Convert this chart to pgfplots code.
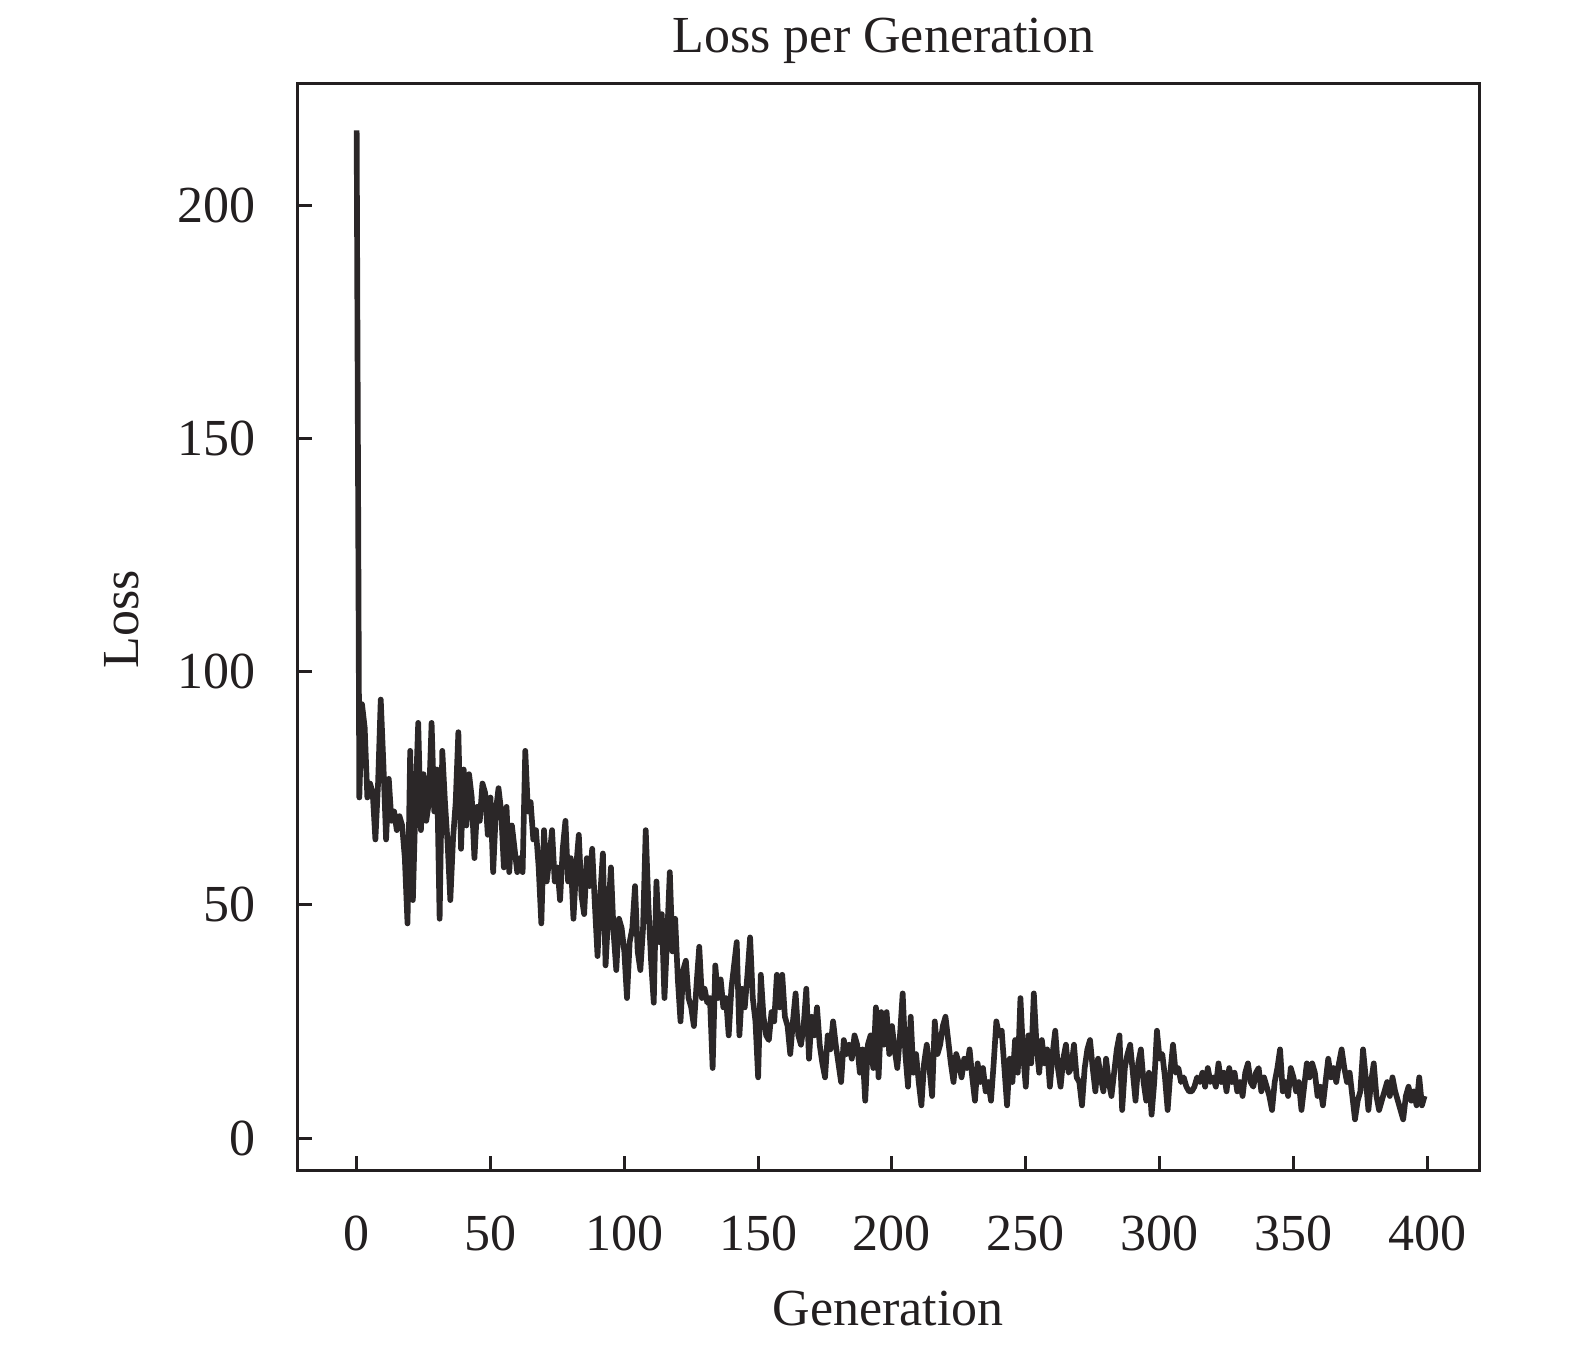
\documentclass[border=0pt]{standalone}
\usepackage{fontspec}
\setmainfont{Liberation Serif}
\usepackage{pgfplots}
\usepackage{pgfplotstable}
\pgfplotsset{compat=1.18}
\definecolor{ink}{HTML}{231F20}
\definecolor{curve}{HTML}{2B2728}
\pgfplotstableread{
x y
0 216
1 73
2 93
3 88
4 73
5 76
6 74
7 64
8 76
9 94
10 80
11 64
12 77
13 68
14 70
15 66
16 69
17 67
18 60
19 46
20 83
21 51
22 72
23 89
24 66
25 78
26 68
27 72
28 89
29 70
30 79
31 47
32 83
33 72
34 63
35 51
36 64
37 72
38 87
39 62
40 79
41 67
42 78
43 73
44 60
45 71
46 68
47 76
48 74
49 65
50 73
51 57
52 70
53 75
54 70
55 58
56 71
57 57
58 67
59 62
60 57
61 60
62 57
63 83
64 70
65 72
66 64
67 66
68 58
69 46
70 66
71 55
72 60
73 66
74 55
75 58
76 51
77 62
78 68
79 55
80 60
81 47
82 58
83 65
84 52
85 48
86 60
87 54
88 62
89 50
90 39
91 52
92 61
93 37
94 48
95 58
96 44
97 36
98 47
99 45
100 40
101 30
102 42
103 45
104 54
105 40
106 36
107 45
108 66
109 50
110 38
111 29
112 55
113 42
114 48
115 30
116 43
117 57
118 40
119 47
120 34
121 25
122 36
123 38
124 30
125 28
126 24
127 33
128 41
129 30
130 32
131 29
132 30
133 15
134 37
135 30
136 34
137 28
138 30
139 22
140 32
141 37
142 42
143 22
144 32
145 28
146 35
147 43
148 30
149 25
150 13
151 35
152 26
153 22
154 21
155 27
156 25
157 35
158 28
159 35
160 26
161 24
162 18
163 25
164 31
165 22
166 20
167 24
168 32
169 17
170 26
171 22
172 28
173 20
174 16
175 13
176 22
177 19
178 25
179 20
180 16
181 12
182 21
183 18
184 20
185 17
186 22
187 20
188 14
189 19
190 8
191 20
192 22
193 15
194 28
195 13
196 27
197 20
198 27
199 18
200 24
201 19
202 15
203 22
204 31
205 18
206 11
207 26
208 14
209 18
210 12
211 7
212 16
213 20
214 15
215 9
216 25
217 18
218 20
219 24
220 26
221 21
222 16
223 12
224 18
225 16
226 13
227 17
228 15
229 19
230 13
231 8
232 16
233 12
234 15
235 10
236 12
237 8
238 16
239 25
240 22
241 23
242 15
243 7
244 17
245 12
246 21
247 14
248 30
249 18
250 11
251 22
252 16
253 31
254 20
255 14
256 21
257 16
258 19
259 11
260 18
261 23
262 15
263 11
264 17
265 20
266 14
267 15
268 20
269 13
270 12
271 7
272 15
273 19
274 21
275 15
276 10
277 17
278 13
279 10
280 17
281 12
282 9
283 14
284 19
285 22
286 6
287 15
288 18
289 20
290 14
291 8
292 16
293 19
294 12
295 8
296 14
297 5
298 12
299 23
300 17
301 18
302 13
303 6
304 14
305 20
306 14
307 15
308 12
309 13
310 11
311 10
312 10
313 11
314 13
315 12
316 14
317 11
318 15
319 12
320 13
321 11
322 16
323 12
324 14
325 10
326 15
327 12
328 14
329 10
330 12
331 9
332 14
333 16
334 12
335 11
336 14
337 15
338 10
339 13
340 11
341 9
342 6
343 12
344 15
345 19
346 10
347 12
348 9
349 15
350 13
351 10
352 12
353 6
354 11
355 16
356 13
357 16
358 14
359 9
360 11
361 7
362 12
363 17
364 13
365 15
366 12
367 16
368 19
369 15
370 12
371 14
372 9
373 4
374 8
375 10
376 19
377 13
378 6
379 12
380 16
381 9
382 6
383 8
384 10
385 12
386 9
387 13
388 10
389 8
390 6
391 4
392 9
393 11
394 8
395 10
396 7
397 13
398 7
399 9
}\losstable
\begin{document}
\begin{tikzpicture}
\useasboundingbox (0,0) rectangle (472.5pt,404.4pt);
\begin{axis}[
  at={(89.25pt,53.4pt)}, anchor=south west,
  scale only axis, width=354.5pt, height=326pt,
  xmin=-22.1, xmax=419.4, ymin=-6.86, ymax=226.1,
  xtick={0,50,...,400}, ytick={0,50,...,200},
  xtick pos=bottom, ytick pos=left,
  tick align=inside, major tick length=4.2pt,
  tick style={line width=0.9pt, color=ink},
  axis line style={line width=0.9pt, color=ink},
  /pgf/number format/assume math mode=true,
  ticklabel style={font=\fontsize{15.6}{18}\selectfont, text=ink, inner sep=0pt},
  xticklabel style={anchor=base, yshift=-24pt},
  yticklabel style={anchor=east, xshift=-12.3pt},
  title={Loss per Generation},
  title style={font=\fontsize{15.6}{18}\selectfont, text=ink, inner sep=0pt, at={(axis description cs:0.496,1)}, anchor=base, yshift=3.1pt},
  xlabel={Generation},
  xlabel style={font=\fontsize{15.6}{18}\selectfont, text=ink, inner sep=0pt, at={(axis description cs:0.5,0)}, anchor=base, yshift=-46.5pt},
  ylabel={Loss},
  ylabel style={font=\fontsize{15.6}{18}\selectfont, text=ink, inner sep=0pt, at={([xshift=-47.85pt]axis description cs:0,0.507)}, anchor=base},
]
\addplot[color=curve, line width=1.7pt, line join=round, no marks] table[x=x,y=y] {\losstable};
\end{axis}
\end{tikzpicture}
\end{document}
